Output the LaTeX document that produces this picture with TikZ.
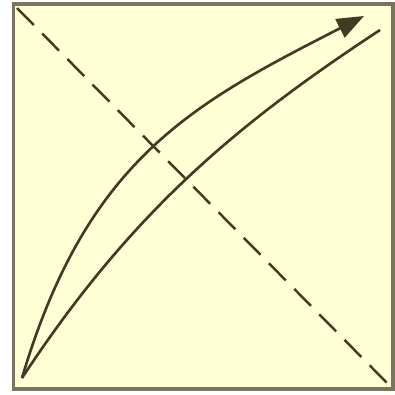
\documentclass[tikz,border=0pt]{standalone}
\usepackage{tikz}
\usetikzlibrary{arrows.meta}
\definecolor{paper}{RGB}{255,255,214}
\definecolor{rim}{RGB}{120,116,96}
\definecolor{ink}{RGB}{62,60,34}
\tikzset{
  panel/.style={draw=rim, fill=paper, line width=1.1pt},
  diagline/.style={ink, line width=0.7pt, dash pattern=on 6.8pt off 3.4pt},
  trackline/.style={ink, line width=0.75pt},
  arrow/.style={trackline, -{Triangle[length=7.7pt, width=5.8pt]}}
}
\begin{document}
\begin{tikzpicture}[x=0.01cm, y=-0.01cm]
\useasboundingbox (0,0) rectangle (395,394);

% Panel
\draw[panel] (13.5,4) rectangle (393,389);

% Corner points
\coordinate (topleft) at (17,8);
\coordinate (botright) at (391,387);
\coordinate (start) at (22,378);
\coordinate (tip) at (364,16);
\coordinate (stop) at (380,30);

% Dashed diagonal
\draw[diagline] (topleft) -- (botright);

% Two curves
\draw[arrow] (start) .. controls (87,159) and (192,104) .. (tip);
\draw[trackline] (start) .. controls (131,212) and (237,124) .. (stop);

\end{tikzpicture}
\end{document}
